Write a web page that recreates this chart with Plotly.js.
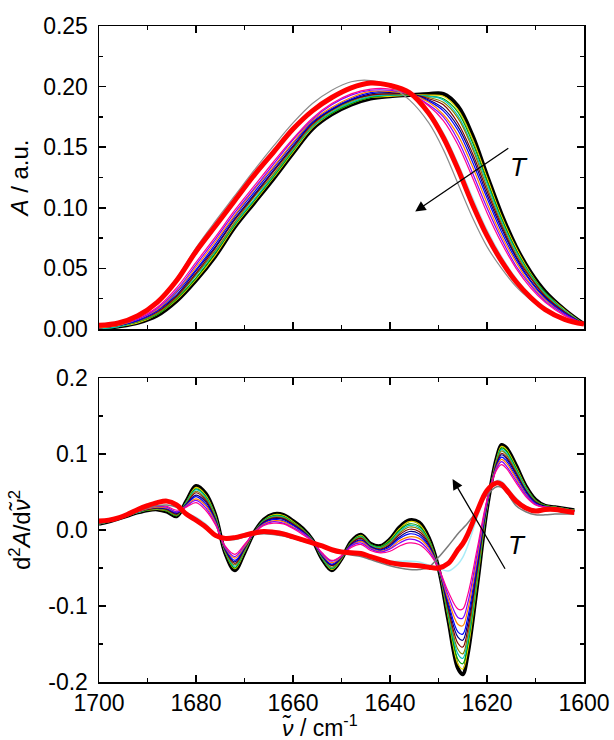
<!DOCTYPE html>
<html>
<head>
<meta charset="utf-8">
<script src="https://cdn.plot.ly/plotly-3.0.1.min.js"></script>
<style>html,body{margin:0;padding:0;background:#fff;}#chart{width:614px;height:740px;}</style>
</head>
<body>
<div id="chart"></div>
<script>
// ---------- wavenumber grids ----------
const X_TOP = [1700,1696,1692,1688,1684,1680,1676,1672,1668,1664,1660,1656,1652,1648,1644,1640,1636,1632,1629,1626,1623,1620,1617,1614,1611,1608,1604,1600];
const X_BOT = [1700,1698,1696,1694,1692,1690,1688,1686,1684,1682,1680,1678,1676,1674,1672,1670,1668,1666,1664,1662,1660,1658,1656,1654,1652,1650,1648,1646,1644,1642,1640,1638,1636,1634,1632,1630,1628,1626,1625,1624,1622,1620,1618,1617,1616,1614,1612,1610,1608,1606,1604,1602];

// ---------- absorbance spectra (top) ----------
const A_black = [0.000,0.002,0.005,0.011,0.023,0.040,0.060,0.084,0.104,0.124,0.145,0.165,0.177,0.185,0.190,0.192,0.193,0.194,0.194,0.184,0.160,0.127,0.095,0.068,0.047,0.031,0.016,0.004];
const A_t1  = [0.000,0.002,0.005,0.012,0.024,0.041,0.061,0.085,0.105,0.125,0.146,0.166,0.178,0.186,0.191,0.192,0.193,0.193,0.192,0.181,0.157,0.125,0.093,0.067,0.046,0.030,0.016,0.004];
const A_t2  = [0.000,0.002,0.006,0.012,0.025,0.042,0.063,0.086,0.106,0.126,0.147,0.167,0.178,0.186,0.191,0.193,0.193,0.192,0.190,0.179,0.154,0.122,0.091,0.065,0.045,0.030,0.015,0.004];
const A_t3  = [0.000,0.002,0.006,0.013,0.026,0.044,0.064,0.087,0.107,0.127,0.148,0.167,0.179,0.187,0.192,0.193,0.193,0.192,0.189,0.176,0.151,0.120,0.089,0.064,0.044,0.029,0.015,0.004];
const A_t4  = [0.001,0.003,0.006,0.013,0.026,0.045,0.065,0.088,0.109,0.128,0.149,0.168,0.180,0.188,0.193,0.194,0.193,0.191,0.187,0.174,0.149,0.117,0.087,0.062,0.043,0.028,0.014,0.004];
const A_t5  = [0.001,0.003,0.007,0.014,0.027,0.046,0.067,0.090,0.110,0.130,0.150,0.169,0.181,0.189,0.193,0.194,0.194,0.190,0.185,0.170,0.145,0.114,0.085,0.060,0.042,0.027,0.014,0.004];
const A_t6  = [0.001,0.003,0.007,0.015,0.028,0.048,0.068,0.091,0.111,0.131,0.151,0.170,0.181,0.189,0.194,0.195,0.194,0.189,0.182,0.167,0.142,0.111,0.083,0.059,0.040,0.026,0.013,0.004];
const A_t7  = [0.001,0.003,0.007,0.015,0.030,0.049,0.070,0.093,0.113,0.133,0.153,0.171,0.182,0.190,0.195,0.196,0.194,0.188,0.180,0.164,0.138,0.108,0.080,0.057,0.039,0.025,0.013,0.004];
const A_t8  = [0.001,0.003,0.008,0.016,0.031,0.051,0.072,0.094,0.115,0.134,0.154,0.172,0.183,0.191,0.196,0.196,0.194,0.187,0.177,0.160,0.134,0.104,0.077,0.055,0.037,0.024,0.012,0.004];
const A_t9  = [0.002,0.004,0.008,0.017,0.032,0.053,0.074,0.096,0.116,0.136,0.156,0.173,0.185,0.193,0.197,0.197,0.194,0.185,0.175,0.156,0.129,0.100,0.074,0.052,0.036,0.023,0.012,0.004];
const A_t10 = [0.002,0.004,0.009,0.018,0.034,0.055,0.076,0.098,0.118,0.138,0.157,0.174,0.186,0.194,0.198,0.198,0.194,0.184,0.172,0.152,0.125,0.096,0.071,0.050,0.034,0.022,0.011,0.004];
const A_light = [0.003,0.005,0.010,0.021,0.038,0.062,0.083,0.104,0.125,0.144,0.163,0.179,0.190,0.198,0.202,0.200,0.195,0.180,0.162,0.137,0.109,0.082,0.060,0.042,0.028,0.018,0.009,0.004];
const A_gray = [0.003,0.005,0.011,0.023,0.042,0.067,0.089,0.110,0.131,0.151,0.170,0.186,0.197,0.204,0.205,0.200,0.189,0.170,0.148,0.120,0.092,0.068,0.050,0.035,0.024,0.015,0.008,0.004];
const A_red = [0.003,0.005,0.011,0.022,0.040,0.064,0.085,0.106,0.127,0.146,0.165,0.180,0.191,0.199,0.203,0.201,0.195,0.178,0.158,0.132,0.103,0.077,0.056,0.039,0.026,0.016,0.008,0.004];

// ---------- second derivative spectra (bottom) ----------
const D_black = [0.008,0.011,0.015,0.019,0.023,0.026,0.027,0.024,0.018,0.038,0.058,0.048,0.020,-0.030,-0.053,-0.030,-0.003,0.014,0.021,0.020,0.012,0.002,-0.013,-0.038,-0.053,-0.038,-0.015,-0.006,-0.018,-0.021,-0.012,0.004,0.013,0.010,-0.010,-0.050,-0.118,-0.182,-0.190,-0.165,-0.072,0.028,0.095,0.112,0.108,0.085,0.058,0.040,0.032,0.030,0.028,0.026];
const D_t1  = [0.008,0.011,0.015,0.019,0.023,0.026,0.027,0.025,0.019,0.037,0.056,0.046,0.019,-0.029,-0.051,-0.029,-0.003,0.013,0.020,0.019,0.011,0.001,-0.013,-0.037,-0.052,-0.038,-0.016,-0.007,-0.019,-0.022,-0.013,0.002,0.011,0.008,-0.012,-0.050,-0.115,-0.176,-0.183,-0.159,-0.068,0.029,0.094,0.110,0.106,0.083,0.057,0.039,0.032,0.030,0.028,0.026];
const D_t2  = [0.008,0.011,0.015,0.019,0.023,0.026,0.028,0.025,0.019,0.037,0.054,0.044,0.018,-0.028,-0.050,-0.028,-0.003,0.013,0.019,0.018,0.010,0.001,-0.013,-0.037,-0.051,-0.037,-0.016,-0.008,-0.019,-0.022,-0.014,0.000,0.008,0.005,-0.013,-0.050,-0.112,-0.170,-0.176,-0.152,-0.064,0.030,0.092,0.108,0.104,0.081,0.056,0.039,0.032,0.030,0.028,0.026];
const D_t3  = [0.008,0.011,0.015,0.019,0.023,0.027,0.028,0.026,0.020,0.036,0.053,0.043,0.017,-0.028,-0.048,-0.027,-0.003,0.012,0.018,0.017,0.009,0.000,-0.013,-0.036,-0.050,-0.037,-0.017,-0.009,-0.020,-0.023,-0.016,-0.002,0.006,0.003,-0.015,-0.050,-0.109,-0.163,-0.169,-0.146,-0.060,0.031,0.091,0.106,0.101,0.079,0.055,0.038,0.031,0.030,0.028,0.026];
const D_t4  = [0.009,0.011,0.015,0.019,0.024,0.027,0.028,0.026,0.020,0.035,0.051,0.041,0.016,-0.027,-0.046,-0.026,-0.003,0.011,0.017,0.016,0.009,0.000,-0.014,-0.035,-0.049,-0.037,-0.017,-0.010,-0.021,-0.024,-0.017,-0.004,0.004,0.001,-0.016,-0.050,-0.106,-0.157,-0.163,-0.140,-0.056,0.032,0.090,0.104,0.099,0.077,0.053,0.038,0.031,0.030,0.028,0.026];
const D_t5  = [0.009,0.011,0.015,0.019,0.024,0.027,0.029,0.027,0.021,0.034,0.049,0.039,0.014,-0.026,-0.044,-0.025,-0.003,0.011,0.016,0.015,0.008,-0.001,-0.014,-0.034,-0.047,-0.036,-0.018,-0.011,-0.022,-0.025,-0.019,-0.006,0.001,-0.002,-0.018,-0.050,-0.103,-0.149,-0.154,-0.132,-0.052,0.033,0.088,0.101,0.096,0.075,0.052,0.037,0.031,0.029,0.027,0.025];
const D_t6  = [0.009,0.012,0.015,0.020,0.024,0.028,0.029,0.028,0.022,0.034,0.046,0.037,0.013,-0.025,-0.042,-0.024,-0.003,0.010,0.015,0.014,0.007,-0.002,-0.014,-0.034,-0.046,-0.036,-0.019,-0.013,-0.022,-0.026,-0.020,-0.009,-0.002,-0.005,-0.020,-0.050,-0.099,-0.141,-0.145,-0.124,-0.047,0.034,0.086,0.099,0.094,0.073,0.051,0.036,0.031,0.029,0.027,0.025];
const D_t7  = [0.009,0.012,0.015,0.020,0.024,0.028,0.030,0.028,0.023,0.033,0.044,0.034,0.012,-0.024,-0.040,-0.023,-0.003,0.009,0.014,0.012,0.006,-0.003,-0.014,-0.033,-0.045,-0.035,-0.020,-0.014,-0.023,-0.027,-0.022,-0.011,-0.005,-0.008,-0.022,-0.050,-0.095,-0.134,-0.137,-0.116,-0.042,0.035,0.085,0.096,0.091,0.070,0.049,0.035,0.030,0.029,0.027,0.025];
const D_t8  = [0.009,0.012,0.015,0.020,0.024,0.028,0.030,0.029,0.024,0.032,0.041,0.032,0.010,-0.023,-0.037,-0.022,-0.003,0.008,0.012,0.011,0.004,-0.004,-0.014,-0.032,-0.043,-0.035,-0.021,-0.015,-0.024,-0.028,-0.024,-0.014,-0.009,-0.011,-0.024,-0.050,-0.091,-0.124,-0.126,-0.106,-0.036,0.037,0.083,0.093,0.088,0.068,0.047,0.034,0.030,0.029,0.027,0.025];
const D_t9  = [0.010,0.012,0.015,0.020,0.025,0.029,0.031,0.030,0.024,0.031,0.039,0.029,0.008,-0.022,-0.035,-0.020,-0.003,0.007,0.011,0.009,0.003,-0.004,-0.015,-0.031,-0.041,-0.034,-0.021,-0.017,-0.025,-0.029,-0.025,-0.017,-0.012,-0.015,-0.027,-0.050,-0.086,-0.115,-0.116,-0.097,-0.030,0.038,0.081,0.090,0.084,0.065,0.046,0.034,0.030,0.029,0.027,0.025];
const D_t10 = [0.010,0.012,0.016,0.020,0.025,0.029,0.032,0.031,0.026,0.030,0.036,0.026,0.007,-0.021,-0.032,-0.019,-0.004,0.006,0.009,0.008,0.002,-0.006,-0.015,-0.030,-0.040,-0.034,-0.023,-0.019,-0.027,-0.030,-0.028,-0.021,-0.017,-0.019,-0.030,-0.050,-0.081,-0.104,-0.104,-0.086,-0.024,0.040,0.079,0.086,0.081,0.062,0.044,0.033,0.030,0.029,0.027,0.025];
const D_light = [0.012,0.013,0.016,0.021,0.027,0.032,0.035,0.037,0.032,0.022,0.017,0.008,-0.005,-0.013,-0.013,-0.009,-0.004,-0.001,-0.001,-0.003,-0.007,-0.012,-0.017,-0.022,-0.028,-0.030,-0.029,-0.029,-0.034,-0.038,-0.041,-0.041,-0.041,-0.042,-0.046,-0.050,-0.054,-0.045,-0.036,-0.021,0.017,0.050,0.065,0.064,0.057,0.042,0.031,0.026,0.027,0.027,0.025,0.023];
const D_gray = [0.010,0.012,0.015,0.020,0.025,0.029,0.032,0.033,0.030,0.022,0.012,0.002,-0.008,-0.012,-0.012,-0.009,-0.006,-0.005,-0.006,-0.008,-0.011,-0.015,-0.018,-0.022,-0.027,-0.031,-0.033,-0.035,-0.039,-0.043,-0.047,-0.050,-0.052,-0.052,-0.049,-0.036,-0.021,-0.005,0.002,0.009,0.026,0.046,0.057,0.056,0.050,0.032,0.024,0.020,0.020,0.021,0.021,0.021];
const D_red = [0.012,0.013,0.016,0.021,0.027,0.032,0.036,0.038,0.033,0.021,0.013,0.004,-0.007,-0.011,-0.010,-0.007,-0.004,-0.002,-0.003,-0.005,-0.009,-0.013,-0.017,-0.021,-0.026,-0.029,-0.030,-0.031,-0.035,-0.039,-0.043,-0.045,-0.046,-0.047,-0.049,-0.050,-0.044,-0.026,-0.018,-0.006,0.025,0.052,0.062,0.060,0.053,0.038,0.029,0.025,0.027,0.027,0.025,0.023];

// ---------- tick labels ----------
const X_TICKS = [1700,1680,1660,1640,1620,1600];
const X_TICKTEXT = ['1700','1680','1660','1640','1620','1600'];
const YA_TICKS = [0,0.05,0.10,0.15,0.20,0.25];
const YA_TICKTEXT = ['0.00','0.05','0.10','0.15','0.20','0.25'];
const YD_TICKS = [-0.2,-0.1,0,0.1,0.2];
const YD_TICKTEXT = ['-0.2','-0.1','0.0','0.1','0.2'];

// ---------- styles ----------
const midColors = ['#e6d800','#00a000','#00c0c0','#808000','#800000','#000080','#0000ff','#ff8000','#8000ff','#ff0090'];
const A_mid = [A_t1,A_t2,A_t3,A_t4,A_t5,A_t6,A_t7,A_t8,A_t9,A_t10];
const D_mid = [D_t1,D_t2,D_t3,D_t4,D_t5,D_t6,D_t7,D_t8,D_t9,D_t10];

function tr(x, y, color, width, xa, ya) {
  return {x: x, y: y, type: 'scatter', mode: 'lines', xaxis: xa, yaxis: ya,
          line: {color: color, width: width, shape: 'spline', smoothing: 1}, hoverinfo: 'skip'};
}
const data = [];
data.push(tr(X_TOP, A_black, '#000000', 3.8, 'x2', 'y2'));
A_mid.forEach((a, i) => data.push(tr(X_TOP, a, midColors[i], 1.2, 'x2', 'y2')));
data.push(tr(X_TOP, A_light, '#a8ecf8', 1.2, 'x2', 'y2'));
data.push(tr(X_TOP, A_gray, '#8c8c8c', 1.2, 'x2', 'y2'));
data.push(tr(X_TOP, A_red, '#ff0000', 5, 'x2', 'y2'));

data.push(tr(X_BOT, D_black, '#000000', 3.8, 'x', 'y'));
D_mid.forEach((a, i) => data.push(tr(X_BOT, a, midColors[i], 1.2, 'x', 'y')));
data.push(tr(X_BOT, D_light, '#a8ecf8', 1.5, 'x', 'y'));
data.push(tr(X_BOT, D_gray, '#7a7a7a', 1.5, 'x', 'y'));
data.push(tr(X_BOT, D_red, '#ff0000', 5, 'x', 'y'));

const FONT = 'Liberation Sans, Arial, Helvetica, sans-serif';
const FS = 23;
const axisCommon = {
  showline: true, linecolor: '#000', linewidth: 1.5, mirror: 'ticks',
  ticks: 'inside', ticklen: 7, tickwidth: 1.5, tickcolor: '#000',
  showgrid: false, zeroline: false, tickfont: {family: FONT, size: FS, color: '#000'}
};

const layout = {
  width: 614, height: 740,
  margin: {l: 99, r: 30, t: 26, b: 58},
  paper_bgcolor: '#fff', plot_bgcolor: '#fff',
  showlegend: false,
  font: {family: FONT, size: FS, color: '#000'},
  xaxis: Object.assign({}, axisCommon, {
    anchor: 'y', domain: [0, 1], range: [1700, 1600],
    tickmode: 'array', tickvals: X_TICKS, ticktext: X_TICKTEXT,
    minor: {tickmode: 'linear', tick0: 1600, dtick: 10, ticks: 'inside', ticklen: 4, tickwidth: 1.5, tickcolor: '#000'}
  }),
  xaxis2: Object.assign({}, axisCommon, {
    anchor: 'y2', domain: [0, 1], range: [1700, 1600], matches: 'x',
    tickmode: 'array', tickvals: X_TICKS, showticklabels: false,
    minor: {tickmode: 'linear', tick0: 1600, dtick: 10, ticks: 'inside', ticklen: 4, tickwidth: 1.5, tickcolor: '#000'}
  }),
  yaxis: Object.assign({}, axisCommon, {
    anchor: 'x', domain: [0, 0.4634], range: [-0.2, 0.2], ticklabelstandoff: 5,
    tickmode: 'array', tickvals: YD_TICKS, ticktext: YD_TICKTEXT,
    minor: {tickmode: 'linear', tick0: 0, dtick: 0.05, ticks: 'inside', ticklen: 4, tickwidth: 1.5, tickcolor: '#000'},
    title: {text: 'd<sup>2</sup><i>A</i>/d<i>ν̃</i><sup>2</sup>', font: {family: FONT, size: 24}, standoff: 11}
  }),
  yaxis2: Object.assign({}, axisCommon, {
    anchor: 'x2', domain: [0.5381, 1], range: [0, 0.25], ticklabelstandoff: 5,
    tickmode: 'array', tickvals: YA_TICKS, ticktext: YA_TICKTEXT,
    minor: {tickmode: 'linear', tick0: 0, dtick: 0.025, ticks: 'inside', ticklen: 4, tickwidth: 1.5, tickcolor: '#000'},
    title: {text: '<i>A</i> / a.u.', font: {family: FONT, size: 24}, standoff: 7}
  }),
  annotations: [
    {xref: 'paper', yref: 'paper', x: 0.456, y: -0.093, xanchor: 'center', yanchor: 'bottom',
     text: '<i>ν̃</i> / cm<sup>-1</sup>', showarrow: false, font: {family: FONT, size: 23, color: '#000'}},
    {xref: 'x2', yref: 'y2', axref: 'x2', ayref: 'y2', x: 1634.8, y: 0.097, ax: 1615.3, ay: 0.150,
     showarrow: true, arrowhead: 2, arrowsize: 1.6, arrowwidth: 1.3, arrowcolor: '#000', text: ''},
    {xref: 'x2', yref: 'y2', x: 1613.5, y: 0.134, text: '<i>T</i>', showarrow: false,
     font: {family: FONT, size: 26, color: '#000'}},
    {xref: 'x', yref: 'y', axref: 'x', ayref: 'y', x: 1627.1, y: 0.067, ax: 1616.1, ay: -0.053,
     showarrow: true, arrowhead: 2, arrowsize: 1.6, arrowwidth: 1.3, arrowcolor: '#000', text: ''},
    {xref: 'x', yref: 'y', x: 1613.8, y: -0.020, text: '<i>T</i>', showarrow: false,
     font: {family: FONT, size: 26, color: '#000'}}
  ]
};

Plotly.newPlot('chart', data, layout, {staticPlot: true, displayModeBar: false});
</script>
</body>
</html>
